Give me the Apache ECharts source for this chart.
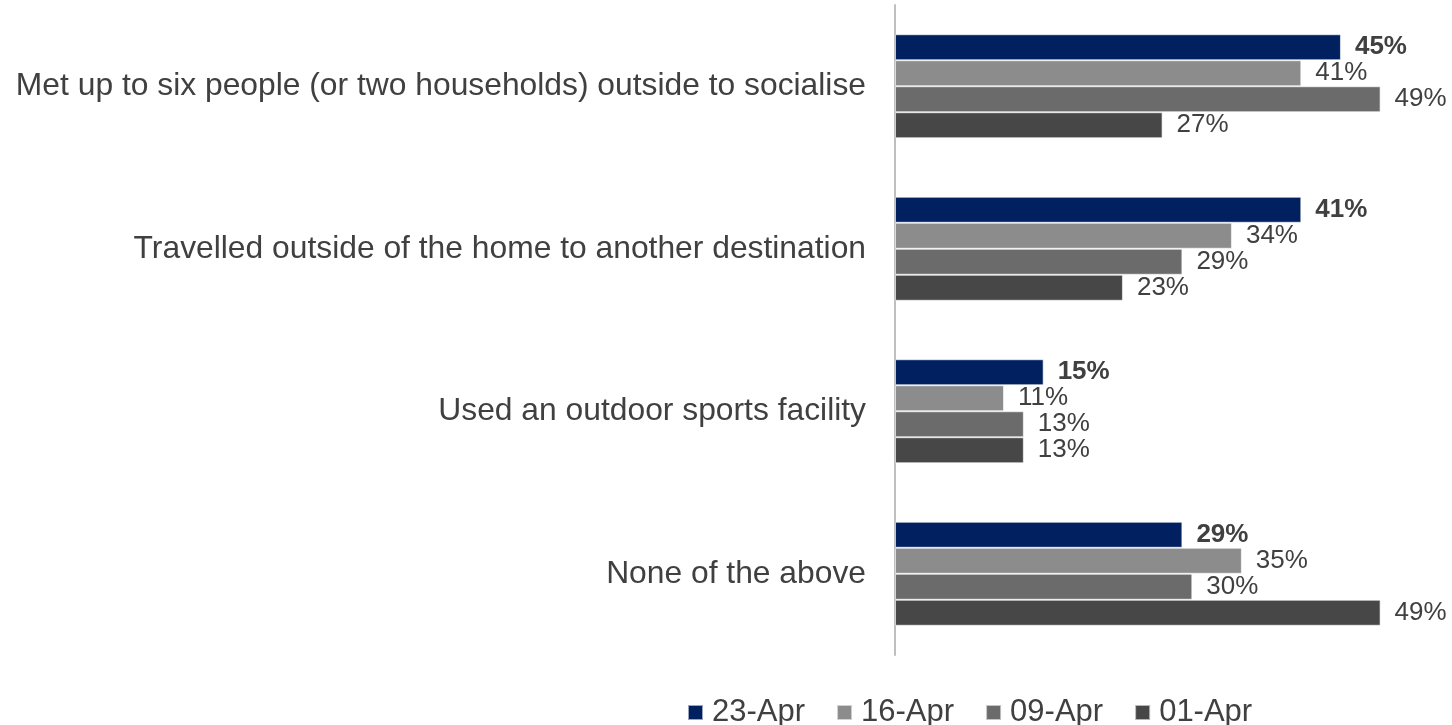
<!DOCTYPE html>
<html>
<head>
<meta charset="utf-8">
<style>
  html, body { margin: 0; padding: 0; background: #ffffff; }
  #chart { width: 1452px; height: 725px; }
</style>
<script src="https://cdn.jsdelivr.net/npm/echarts@6/dist/echarts.min.js"></script>
</head>
<body>
<div id="chart"></div>
<script>
// Activities reported, by survey wave (percent of respondents)
const categories = [
  'Met up to six people (or two households) outside to socialise',
  'Travelled outside of the home to another destination',
  'Used an outdoor sports facility',
  'None of the above'
];
const waves = ['23-Apr', '16-Apr', '09-Apr', '01-Apr'];
const apr23 = [45, 41, 15, 29];
const apr16 = [41, 34, 11, 35];
const apr09 = [49, 29, 13, 30];
const apr01 = [27, 23, 13, 49];

const waveValues = [apr23, apr16, apr09, apr01];
const waveColors = ['#002060', '#8c8c8c', '#6b6b6b', '#474747'];
const FONT = '"Liberation Sans", Arial, sans-serif';

const chart = echarts.init(document.getElementById('chart'), null, { renderer: 'canvas' });

const series = waves.map((name, i) => ({
  name: name,
  type: 'bar',
  data: waveValues[i],
  barGap: '0%',
  barCategoryGap: '36%',
  itemStyle: {
    color: waveColors[i],
    borderColor: 'rgba(255,255,255,0.6)',
    borderWidth: 1
  },
  label: {
    show: true,
    position: 'right',
    distance: 14,
    formatter: '{c}%',
    fontFamily: FONT,
    fontSize: 26,
    color: '#404040',
    fontWeight: i === 0 ? 'bold' : 'normal'
  }
}));

chart.setOption({
  animation: false,
  textStyle: { fontFamily: FONT },
  grid: { left: 895, top: 5, height: 650, width: 495.5 },
  xAxis: {
    type: 'value',
    min: 0,
    max: 50,
    show: false,
    splitLine: { show: false }
  },
  yAxis: {
    type: 'category',
    inverse: true,
    data: categories,
    axisLine: { show: true, lineStyle: { color: '#bfbfbf', width: 2 } },
    axisTick: { show: false },
    axisLabel: {
      fontFamily: FONT,
      fontSize: 31.8,
      color: '#404040',
      margin: 29
    }
  },
  legend: {
    data: waves,
    left: 682,
    top: 692,
    icon: 'rect',
    itemWidth: 15,
    itemHeight: 15,
    itemGap: 31,
    textStyle: { fontFamily: FONT, fontSize: 31, color: '#404040', padding: [0, 0, 0, 4] }
  },
  series: series
});
</script>
</body>
</html>
